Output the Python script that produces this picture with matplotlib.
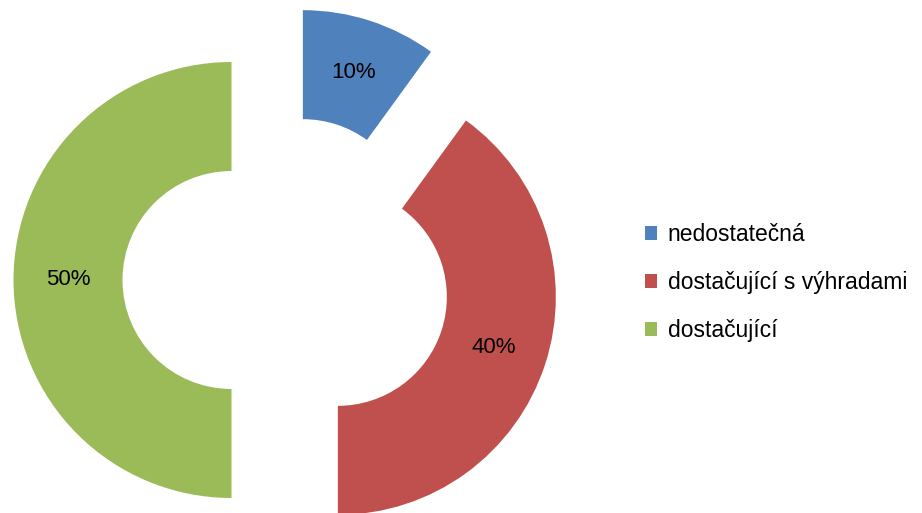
import matplotlib
matplotlib.use("Agg")
import matplotlib.pyplot as plt

# hodnocení – podíly odpovědí
labels = ["nedostatečná", "dostačující s výhradami", "dostačující"]
values = [10, 40, 50]
colors = ["#4F81BD", "#C0504D", "#9BBB59"]
explode = [0.25, 0.25, 0.25]

plt.rcParams['font.family'] = ['Liberation Sans', 'DejaVu Sans']

W, H = 922, 513
fig = plt.figure(figsize=(W / 100, H / 100), dpi=100)
ax = fig.add_axes([0, 0, 1, 1])

R = 218.0          # poloměr v pixelech
cx, cy = 286, 280  # střed (od levého horního rohu)

wedges, texts, autotexts = ax.pie(
    values, colors=colors, explode=explode, startangle=90, counterclock=False,
    radius=1.0, wedgeprops=dict(width=0.5, linewidth=0),
    autopct='%1.0f%%', pctdistance=0.75,
    textprops=dict(fontsize=16, color='black'))

ax.set_xlim(-cx / R, (W - cx) / R)
ax.set_ylim(-(H - cy) / R, cy / R)
ax.set_aspect('auto')
ax.axis('off')

fig.legend(wedges, labels, loc='center left', bbox_to_anchor=(0.677, 0.449),
           frameon=False, fontsize=16.5, handlelength=0.55, handleheight=0.55,
           handletextpad=0.45, labelspacing=1.1)

fig.savefig("out.png", dpi=100)
